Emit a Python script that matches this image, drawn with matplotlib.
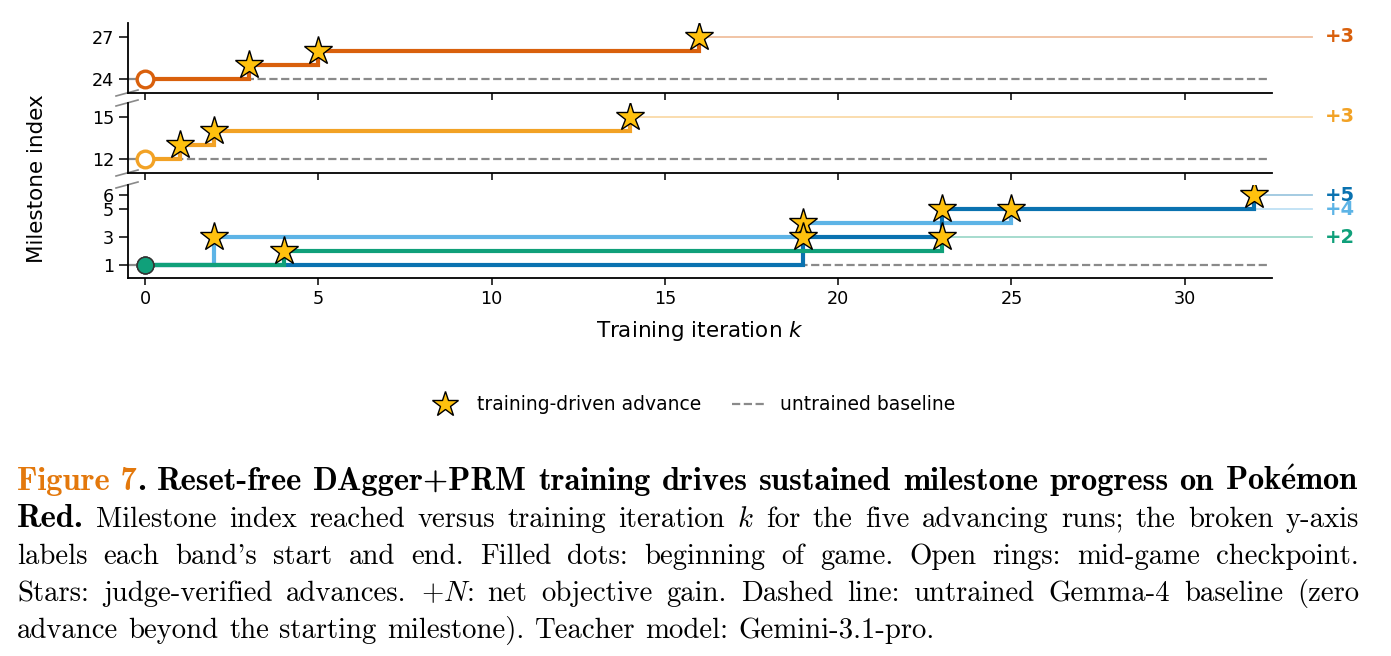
#!/usr/bin/env python3
"""
Milestone progress vs training iteration, broken y-axis (three bands),
with the figure caption drawn underneath as justified serif text.
"""
import matplotlib
matplotlib.use("Agg")
import matplotlib.pyplot as plt
import matplotlib.transforms as mtransforms
from matplotlib.lines import Line2D

# ---------------------------------------------------------------------------
# DATA
# ---------------------------------------------------------------------------
# band 1: mid-game checkpoint starting at milestone 24
RUN_A_X = [0, 3, 5, 16]
RUN_A_Y = [24, 25, 26, 27]
# band 2: mid-game checkpoint starting at milestone 12
RUN_B_X = [0, 1, 2, 14]
RUN_B_Y = [12, 13, 14, 15]
# band 3: three runs from the beginning of the game
RUN_C_X = [0, 2, 19, 25]     # sky blue
RUN_C_Y = [1, 3, 4, 5]
RUN_D_X = [0, 19, 23, 32]    # dark blue
RUN_D_Y = [1, 3, 5, 6]
RUN_E_X = [0, 4, 23]         # green
RUN_E_Y = [1, 2, 3]

BAND_YTICKS = [[24, 27], [12, 15], [1, 3, 5, 6]]
XTICKS = [0, 5, 10, 15, 20, 25, 30]

CAPTION_LINES = [
    [[("Figure 7", "fig"), (".", "b")], [("Reset-free", "b")], [("DAgger+PRM", "b")],
     [("training", "b")], [("drives", "b")], [("sustained", "b")], [("milestone", "b")],
     [("progress", "b")], [("on", "b")], [("Pok$\\mathbf{\\acute{e}}$mon", "b")]],
    [[("Red.", "b")]] + [[(w, "r")] for w in
     "Milestone index reached versus training iteration $k$ for the five advancing runs; the broken y-axis".split()],
    [[(w, "r")] for w in
     "labels each band's start and end. Filled dots: beginning of game. Open rings: mid-game checkpoint.".split()],
    [[(w, "r")] for w in
     "Stars: judge-verified advances. $+N$: net objective gain. Dashed line: untrained Gemma-4 baseline (zero".split()],
    [[(w, "r")] for w in
     "advance beyond the starting milestone). Teacher model: Gemini-3.1-pro.".split()],
]

# ---------------------------------------------------------------------------
# STYLE
# ---------------------------------------------------------------------------
W, H, DPI = 1391, 656, 100
C_VERM, C_ORANGE = "#D9600C", "#F2A225"
C_DARK, C_SKY, C_GREEN = "#0A72B0", "#5DB4E6", "#10A07A"
STAR_FC = "#FFC10E"
BASE_C = "#8A8A8A"
XLIM = (-0.49, 32.52)
LEFT, RIGHT = 128, 1272
# (top px, bottom px, ylim) for each band
BANDS = [(23, 93, (23.0, 28.0)), (103, 173, (11.0, 16.0)), (185, 278, (0.08, 6.72))]
TICK_FS, LABEL_FS, LEG_FS, GAIN_FS = 12.7, 15.5, 13.5, 14
CAP_FS_R, CAP_FS_B = 20.7, 23.4
CAP_BASE = [490, 527, 564, 601, 638]
CAP_L, CAP_R = 17, 1359


def px_rect(top, bottom):
    return [LEFT / W, 1 - bottom / H, (RIGHT - LEFT) / W, (bottom - top) / H]


def style_axis(ax, ylim, yticks, show_xlabels):
    ax.set_xlim(*XLIM)
    ax.set_ylim(*ylim)
    ax.set_yticks(yticks)
    ax.set_xticks(XTICKS)
    for s in ("top", "right"):
        ax.spines[s].set_visible(False)
    for s in ("left", "bottom"):
        ax.spines[s].set_linewidth(1.3)
    ax.tick_params(axis="y", labelsize=TICK_FS, length=6.5, width=1.1)
    ax.tick_params(axis="x", labelsize=TICK_FS, length=5, width=1.1,
                   labelbottom=show_xlabels)


def draw_run(ax, xs, ys, color, start_filled):
    ax.step(xs, ys, where="post", color=color, lw=3.0, zorder=3,
            solid_joinstyle="miter")
    ax.plot(xs[1:], ys[1:], ls="none", marker="*", ms=21, mfc=STAR_FC,
            mec="black", mew=1.0, zorder=6)
    if start_filled:
        ax.plot(xs[0], ys[0], "o", ms=12, mfc=C_GREEN, mec="#333333", mew=1.0, zorder=7)
    else:
        ax.plot(xs[0], ys[0], "o", ms=12, mfc="white", mec=color, mew=2.4, zorder=7)
    # faint lead-out line to the net-gain label outside the axes
    tr = mtransforms.blended_transform_factory(ax.transAxes, ax.transData)
    x0 = ax.transAxes.inverted().transform(ax.transData.transform((xs[-1], ys[-1])))[0]
    ax.add_line(Line2D([x0, 1.035], [ys[-1], ys[-1]], transform=tr, color=color,
                       lw=1.3, alpha=0.4, zorder=2, clip_on=False))
    ax.text(1.046, ys[-1], f"+{ys[-1] - ys[0]}", transform=tr, color=color,
            fontsize=GAIN_FS, fontweight="bold", ha="left", va="center")


def draw_baseline(ax, y):
    ax.plot([XLIM[0], 32.45], [y, y], ls="--", color=BASE_C, lw=1.6, zorder=1)


def break_mark(ax, corner_y):
    w = (RIGHT - LEFT)
    h = ax.get_position().height * H
    ax.plot([-12 / w, 10 / w], [corner_y - 3 / h, corner_y + 3 / h],
            transform=ax.transAxes, color=BASE_C, lw=1.2, clip_on=False, zorder=1)


def draw_caption(fig):
    styles = {
        "fig": dict(family=["cmb10", "DejaVu Serif"], fontsize=CAP_FS_B, color="#E3780C",
                    math_fontfamily="cm"),
        "b": dict(family=["cmb10", "DejaVu Serif"], fontsize=CAP_FS_B, color="black",
                  math_fontfamily="cm"),
        "r": dict(family=["cmr10", "DejaVu Serif"], fontsize=CAP_FS_R, color="black",
                  math_fontfamily="cm"),
    }
    renderer = fig.canvas.get_renderer()
    for i, words in enumerate(CAPTION_LINES):
        y = 1 - CAP_BASE[i] / H
        placed = []
        for word in words:
            arts = [fig.text(0, y, t, va="baseline", ha="left", **styles[s])
                    for t, s in word]
            ws = [a.get_window_extent(renderer).width for a in arts]
            placed.append((arts, ws))
        total = sum(sum(ws) for _, ws in placed)
        if i < len(CAPTION_LINES) - 1:
            gap = (CAP_R - CAP_L - total) / (len(placed) - 1)
        else:
            gap = CAP_FS_R * DPI / 72 * 0.36
        x = CAP_L
        for arts, ws in placed:
            for a, wd in zip(arts, ws):
                a.set_x(x / W)
                x += wd
            x += gap


if __name__ == "__main__":
    fig = plt.figure(figsize=(W / DPI, H / DPI), dpi=DPI)
    axes = [fig.add_axes(px_rect(t, b)) for t, b, _ in BANDS]
    for k, (ax, (_, _, ylim)) in enumerate(zip(axes, BANDS)):
        style_axis(ax, ylim, BAND_YTICKS[k], show_xlabels=(k == 2))

    ax_a, ax_b, ax_c = axes
    draw_baseline(ax_a, RUN_A_Y[0])
    draw_run(ax_a, RUN_A_X, RUN_A_Y, C_VERM, start_filled=False)

    draw_baseline(ax_b, RUN_B_Y[0])
    draw_run(ax_b, RUN_B_X, RUN_B_Y, C_ORANGE, start_filled=False)

    draw_baseline(ax_c, RUN_D_Y[0])
    draw_run(ax_c, RUN_C_X, RUN_C_Y, C_SKY, start_filled=True)
    draw_run(ax_c, RUN_D_X, RUN_D_Y, C_DARK, start_filled=True)
    draw_run(ax_c, RUN_E_X, RUN_E_Y, C_GREEN, start_filled=True)

    # broken-axis marks on the left spine
    break_mark(ax_a, 0.0)
    break_mark(ax_b, 1.0)
    break_mark(ax_b, 0.0)
    break_mark(ax_c, 1.0)

    ax_c.set_xlabel("Training iteration $k$", fontsize=LABEL_FS, labelpad=8)
    fig.text(37 / W, 1 - 179 / H, "Milestone index", rotation=90,
             fontsize=LABEL_FS, ha="center", va="center")

    handles = [
        Line2D([], [], ls="none", marker="*", ms=19, mfc=STAR_FC, mec="black",
               mew=1.0, label="training-driven advance"),
        Line2D([], [], ls="--", color=BASE_C, lw=1.6, label="untrained baseline"),
    ]
    fig.legend(handles=handles, loc="center", bbox_to_anchor=(692 / W, 1 - 405 / H),
               ncol=2, frameon=False, fontsize=LEG_FS, handlelength=1.8,
               columnspacing=1.6, handletextpad=0.8)

    draw_caption(fig)
    fig.savefig("out.png", dpi=DPI)
